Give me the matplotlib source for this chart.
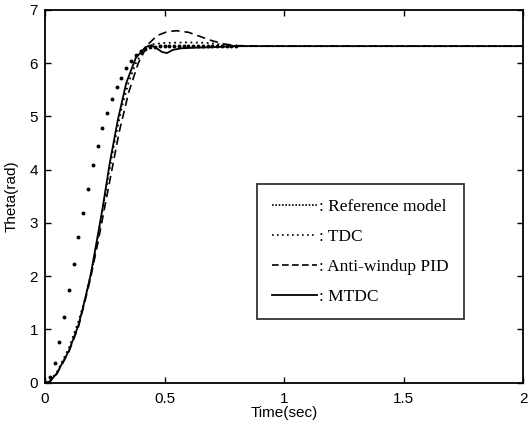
import matplotlib
matplotlib.use("Agg")
import matplotlib.pyplot as plt
from matplotlib.lines import Line2D

# Reference model (sampled, shown as sparse dots)
t_ref = [0.00, 0.02, 0.04, 0.06, 0.08, 0.10, 0.12, 0.14, 0.16, 0.18, 0.20,
         0.22, 0.24, 0.26, 0.28, 0.30, 0.32, 0.34, 0.36, 0.38, 0.40, 0.42,
         0.44, 0.46, 0.48, 0.50, 0.52, 0.54, 0.56, 0.58, 0.60, 0.62, 0.64,
         0.66, 0.68, 0.70, 0.72, 0.74, 0.76, 0.78, 0.80]
y_ref = [0.00, 0.11, 0.38, 0.76, 1.23, 1.74, 2.23, 2.73, 3.18, 3.63, 4.08,
         4.45, 4.78, 5.06, 5.33, 5.55, 5.73, 5.91, 6.05, 6.15, 6.23, 6.27,
         6.30, 6.31, 6.32, 6.32, 6.32, 6.32, 6.32, 6.32, 6.32, 6.32, 6.32,
         6.32, 6.32, 6.32, 6.32, 6.32, 6.32, 6.32, 6.32]

# TDC
t_tdc = [0.00, 0.02, 0.05, 0.10, 0.14, 0.17, 0.20, 0.23, 0.26, 0.29, 0.32,
         0.35, 0.38, 0.41, 0.44, 0.50, 0.60, 0.68, 0.72, 0.76, 0.80, 1.00, 2.00]
y_tdc = [0.00, 0.03, 0.20, 0.65, 1.15, 1.60, 2.20, 2.95, 3.75, 4.50, 5.15,
         5.65, 6.00, 6.22, 6.35, 6.38, 6.39, 6.38, 6.36, 6.34, 6.32, 6.32, 6.32]

# Anti-windup PID
t_pid = [0.00, 0.02, 0.05, 0.10, 0.14, 0.16, 0.19, 0.22, 0.25, 0.28, 0.31,
         0.35, 0.39, 0.43, 0.47, 0.51, 0.55, 0.60, 0.65, 0.70, 0.75, 0.80,
         0.90, 1.00, 2.00]
y_pid = [0.00, 0.02, 0.17, 0.58, 1.05, 1.40, 1.95, 2.60, 3.30, 4.00, 4.70,
         5.45, 6.00, 6.35, 6.52, 6.59, 6.61, 6.58, 6.50, 6.42, 6.36, 6.33,
         6.32, 6.32, 6.32]

# MTDC
t_mtdc = [0.00, 0.02, 0.05, 0.10, 0.14, 0.16, 0.19, 0.215, 0.24, 0.27, 0.305,
          0.34, 0.38, 0.42, 0.445, 0.47, 0.49, 0.51, 0.535, 0.57, 0.62, 0.70,
          0.80, 1.00, 1.50, 2.00]
y_mtdc = [0.00, 0.02, 0.18, 0.60, 1.08, 1.43, 2.00, 2.62, 3.25, 4.10, 4.94,
          5.63, 6.10, 6.30, 6.34, 6.27, 6.21, 6.19, 6.25, 6.28, 6.29, 6.30,
          6.32, 6.32, 6.32, 6.32]

xticks = [0, 0.5, 1, 1.5, 2]
xtick_labels = ["0", "0.5", "1", "1.5", "2"]
yticks = [0, 1, 2, 3, 4, 5, 6, 7]
legend_labels = [": Reference model", ": TDC", ": Anti-windup PID", ": MTDC"]

plt.rcParams['font.family'] = ['Liberation Sans', 'DejaVu Sans']

fig = plt.figure(figsize=(5.29, 4.32), dpi=100)
ax = fig.add_axes([0.085, 0.114, 0.904, 0.863])

ax.plot(t_ref, y_ref, linestyle='none', marker='o', markersize=1.8, color='black')
ax.plot(t_tdc, y_tdc, linestyle=(0, (1, 2)), linewidth=1.3, color='black')
ax.plot(t_pid, y_pid, linestyle=(0, (5, 3)), linewidth=1.2, color='black')
ax.plot(t_mtdc, y_mtdc, linestyle='-', linewidth=1.3, color='black')

ax.set_xlim(0, 2)
ax.set_ylim(0, 7)
ax.set_xticks(xticks)
ax.set_xticklabels(xtick_labels)
ax.set_yticks(yticks)
ax.tick_params(direction='in', length=4, width=1, labelsize=11,
               top=True, right=True)
ax.tick_params(axis='x', pad=7)
ax.tick_params(axis='y', pad=5)
for sp in ax.spines.values():
    sp.set_linewidth(1.3)

ax.set_xlabel("Time(sec)", fontsize=11, labelpad=0)
ax.set_ylabel("Theta(rad)", fontsize=11, labelpad=7.5)

handles = [
    Line2D([], [], linestyle=(0, (1, 1)), linewidth=1.2, color='black'),
    Line2D([], [], linestyle=(0, (1, 2)), linewidth=1.2, color='black'),
    Line2D([], [], linestyle=(0, (4, 2)), linewidth=1.2, color='black'),
    Line2D([], [], linestyle='-', linewidth=1.3, color='black'),
]
leg = ax.legend(handles, legend_labels, loc='upper left',
                bbox_to_anchor=(0.443, 0.534), frameon=True, fancybox=False,
                edgecolor='black', handlelength=2.6, handletextpad=0.15,
                labelspacing=0.8, borderpad=0.85, borderaxespad=0,
                prop={'family': 'Liberation Serif', 'size': 12.5})
leg.get_frame().set_linewidth(1.3)

fig.savefig("out.png", dpi=100)
